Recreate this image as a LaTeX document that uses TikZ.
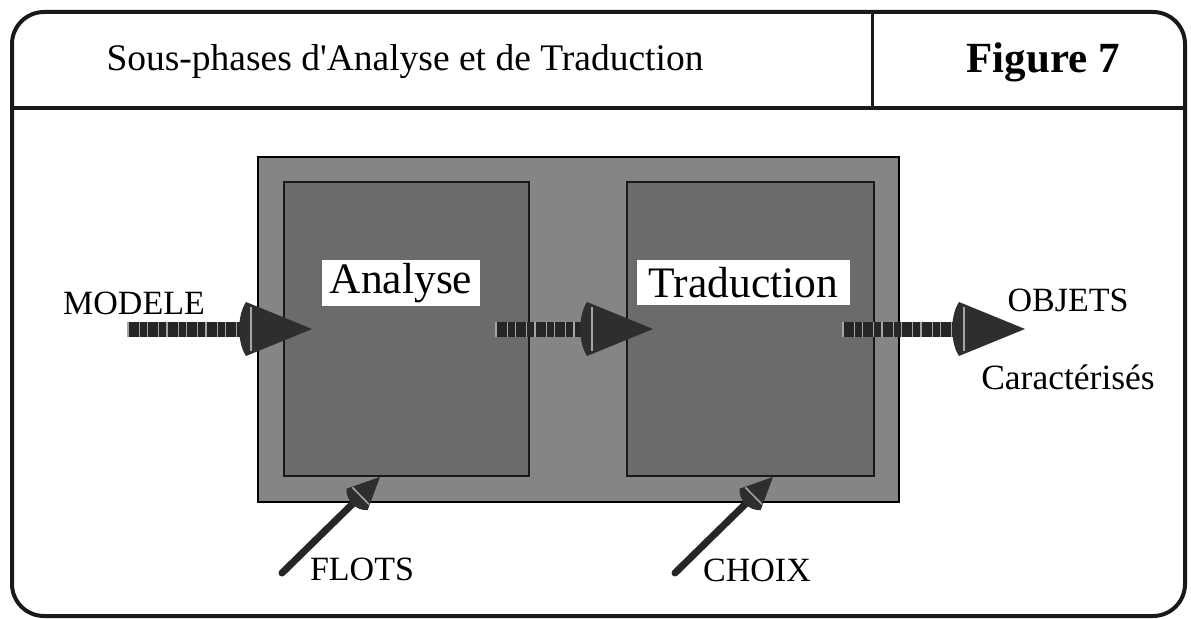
\documentclass[tikz,border=0pt]{standalone}
\usepackage{fontspec}
\setmainfont{Liberation Serif}
\usetikzlibrary{calc}
\newcommand\conehead[4]{% tip, angle, length, halfwidth
  \begin{scope}[shift={(#1)}, rotate=#2]
    \fill[headfill] (0,0) -- (-#3,#4) .. controls (-#3-9,#4*0.5) and (-#3-9,-#4*0.5) .. (-#3,-#4) -- cycle;
    \draw[black!35, line width=1.5bp] (-#3+5,#4*0.8) -- (-#3+5,-#4*0.8);
  \end{scope}}
\begin{document}
\begin{tikzpicture}[x=1bp,y=-1bp,
  frame/.style={line width=4bp, draw=black!90},
  outerbox/.style={fill=black!48, draw=black, line width=2bp, inner sep=0pt, outer sep=0pt, anchor=north west},
  innerbox/.style={fill=black!58, draw=black!90, line width=2bp, inner sep=0pt, outer sep=0pt, anchor=north west},
  lab/.style={font=\fontsize{34bp}{40bp}\selectfont, inner sep=0pt},
  boxlab/.style={fill=white, font=\fontsize{43.5bp}{50bp}\selectfont, inner sep=0pt},
  shaft/.style={line width=15bp, draw=black!85},
  stripes/.style={line width=15bp, draw=black!35, dash pattern=on 1.5bp off 10bp on 1bp off 7bp},
  thinshaft/.style={line width=7bp, draw=black!85, line cap=round},
  headfill/.style={fill=black!82}
]
\useasboundingbox (0,0) rectangle (1191,619);
\fill[white] (0,0) rectangle (1191,619);

% frame and title bar
\draw[frame, rounded corners=32bp] (12,12) rectangle (1185,616);
\draw[frame] (12,108) -- (1185,108);
\draw[line width=3bp, black!90] (872,12) -- (872,108);
\node[lab, font=\fontsize{37.5bp}{44bp}\selectfont] (title) at (405,62) {Sous-phases d\textquotesingle Analyse et de Traduction};
\node[lab, font=\fontsize{43bp}{50bp}\selectfont\bfseries] (fig) at (1043,62) {Figure 7};

% boxes
\node[outerbox, minimum width=641bp, minimum height=345bp] (outer) at (258,157) {};
\node[innerbox, minimum width=245bp, minimum height=294bp] (boxA) at (284,182) {};
\node[innerbox, minimum width=247bp, minimum height=294bp] (boxT) at (627,182) {};
\node[boxlab, minimum width=158bp, minimum height=46bp] (analyse) at (401,283) {Analyse};
\node[boxlab, minimum width=213bp, minimum height=45bp] (traduction) at (743.5,282.5) {Traduction};

% labels
\node[lab] (modele) at (134,303) {MODELE};
\node[lab] (objets) at (1068,300) {OBJETS};
\node[lab, font=\fontsize{35.5bp}{42bp}\selectfont] (caract) at (1068,377) {Caractérisés};
\node[lab] (flots) at (362,569) {FLOTS};
\node[lab] (choix) at (757,570) {CHOIX};

% horizontal arrows
\coordinate (m1) at (127,329);  \coordinate (m2) at (250,329);  \coordinate (mt) at (312,329);
\coordinate (a1) at (495,329);  \coordinate (a2) at (590,329);  \coordinate (at) at (653,329);
\coordinate (t1) at (842,329);  \coordinate (t2) at (958,329);  \coordinate (tt) at (1025,329);
\foreach \s/\e/\t in {m1/m2/mt, a1/a2/at, t1/t2/tt}{
  \draw[shaft] (\s) -- (\e);
  \draw[stripes] (\s) -- (\e);
  \conehead{\t}{0}{66}{27}
}

% diagonal arrows
\coordinate (f1) at (282,573); \coordinate (ft) at (380,477);
\coordinate (c1) at (675,573); \coordinate (ct) at (773,477);
\draw[thinshaft] (f1) -- ($(f1)!0.78!(ft)$);
\conehead{ft}{44.4}{32}{15}
\draw[thinshaft] (c1) -- ($(c1)!0.78!(ct)$);
\conehead{ct}{44.4}{32}{15}
\end{tikzpicture}
\end{document}
